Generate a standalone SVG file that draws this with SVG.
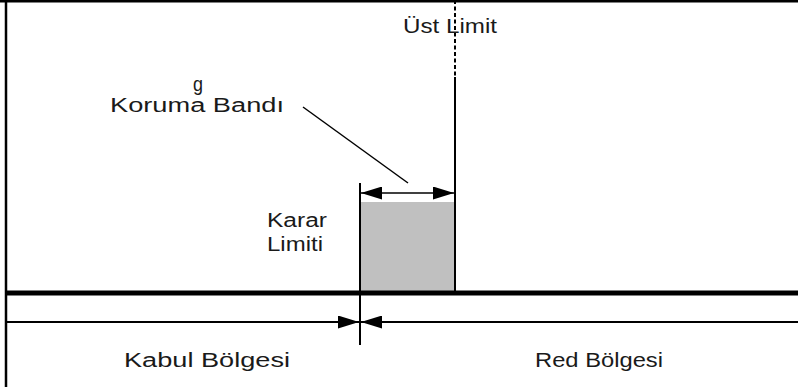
<svg xmlns="http://www.w3.org/2000/svg" width="798" height="387" viewBox="0 0 798 387">
<defs>
<style>
.t{font-family:"Liberation Sans",Arial,sans-serif;font-size:19.5px;fill:#1a1a1a;}
.ln{stroke:#000;fill:none;}
</style>
<marker id="ah" viewBox="0 0 21 13" refX="21" refY="6.5" markerWidth="21" markerHeight="13" markerUnits="userSpaceOnUse" orient="auto-start-reverse">
<path d="M0,0 L21,6.5 L0,13 Z" fill="#000"/>
</marker>
</defs>
<rect width="798" height="387" fill="#fff"/>
<g id="frame">
<line class="ln" x1="0" y1="1.2" x2="798" y2="1.2" stroke-width="2.5"/>
<line class="ln" x1="6" y1="0" x2="6" y2="387" stroke-width="2.5"/>
</g>
<g id="guard-band">
<rect x="361" y="202" width="93" height="89" fill="#c0c0c0"/>
</g>
<g id="connectors">
<line class="ln" x1="6" y1="293" x2="798" y2="293" stroke-width="5"/>
<line class="ln" x1="360" y1="183" x2="360" y2="345" stroke-width="2"/>
<line class="ln" x1="455" y1="77" x2="455" y2="292" stroke-width="2"/>
<line class="ln" x1="455" y1="0" x2="455" y2="77" stroke-width="2" stroke-dasharray="4 2.5"/>
<line class="ln" x1="361" y1="193" x2="454" y2="193" stroke-width="1.5" marker-start="url(#ah)" marker-end="url(#ah)"/>
<line class="ln" x1="303" y1="107" x2="408" y2="183" stroke-width="1.5"/>
<line class="ln" x1="6" y1="322" x2="359" y2="322" stroke-width="2" marker-end="url(#ah)"/>
<line class="ln" x1="798" y1="322" x2="361" y2="322" stroke-width="2" marker-end="url(#ah)"/>
</g>
<g id="label-ust-limit">
<text class="t" x="403" y="33" textLength="94" lengthAdjust="spacingAndGlyphs">Üst Limit</text>
</g>
<g id="label-koruma-bandi">
<text class="t" x="193" y="91" font-size="16" textLength="10" lengthAdjust="spacingAndGlyphs">g</text>
<text class="t" x="110" y="112" textLength="174" lengthAdjust="spacingAndGlyphs">Koruma Bandı</text>
</g>
<g id="label-karar-limiti">
<text class="t" x="267" y="227" textLength="60" lengthAdjust="spacingAndGlyphs">Karar</text>
<text class="t" x="267" y="251" textLength="56" lengthAdjust="spacingAndGlyphs">Limiti</text>
</g>
<g id="label-kabul">
<text class="t" x="124" y="367" textLength="166" lengthAdjust="spacingAndGlyphs">Kabul Bölgesi</text>
</g>
<g id="label-red">
<text class="t" x="535" y="367" textLength="128" lengthAdjust="spacingAndGlyphs">Red Bölgesi</text>
</g>
</svg>
